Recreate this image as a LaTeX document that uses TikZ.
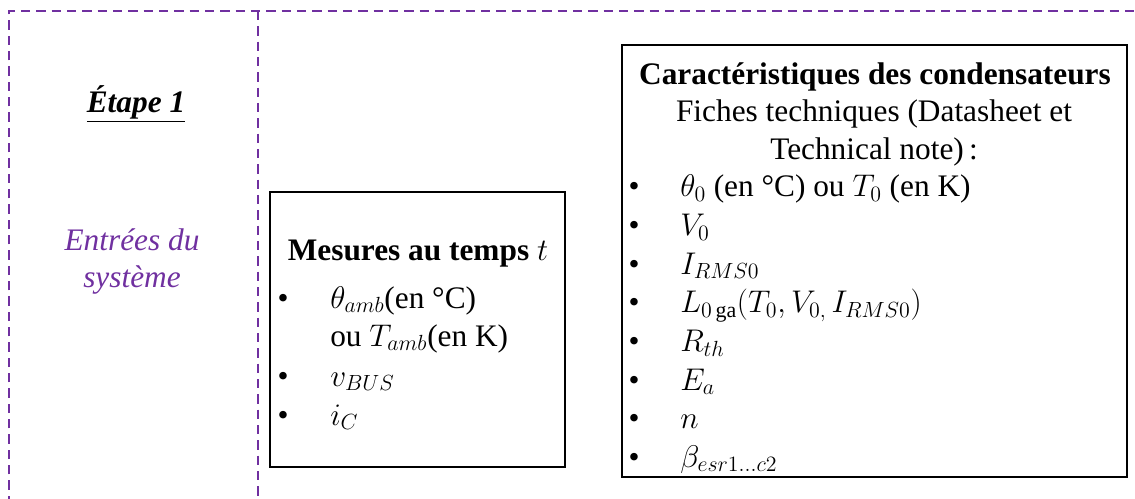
\documentclass[tikz,border=0pt]{standalone}
\usepackage{fix-cm}
\usepackage{fontspec}
\setmainfont{Liberation Serif}
\usepackage{xcolor}
\definecolor{StepPurple}{RGB}{112,48,160}
\usetikzlibrary{positioning}
\tikzset{
  % Dashed frame of the step
  stepframe/.style={draw=StepPurple, line width=1.5pt, dash pattern=on 7pt off 4.5pt},
  % Input boxes
  databox/.style={rectangle, draw=black, line width=1.5pt, inner sep=0pt},
  % Texts (placed on their baseline)
  txt/.style={font=\fontsize{23.5}{28}\selectfont, inner sep=0pt, anchor=base},
  itemtxt/.style={txt, anchor=base west},
  steptxt/.style={txt, text=StepPurple, font=\fontsize{23.5}{28}\selectfont\itshape},
}

\begin{document}
\begin{tikzpicture}[x=0.75pt, y=-0.75pt]

  \useasboundingbox (0,0) rectangle (1135,499);

  %% Step frame
  \draw[stepframe] (9,505) -- (9,11) -- (1145,11);
  \draw[stepframe] (258,11) -- (258,505);

  %% Step title
  \node[txt] (step) at (136,113) {\textbf{\textit{\underline{Étape 1}}}};
  \node[steptxt] (inp1) at (132,250) {Entrées du};
  \node[steptxt] (inp2) at (132,287) {système};

  %% Measurements box
  \node[databox, minimum width=221.25pt, minimum height=206.25pt] (mes) at (417.5,329.5) {};
  \node[txt] (mestitle) at (418,260) {\textbf{Mesures au temps} $t$};
  \node[txt] (mb1) at (283,308) {•};
  \node[itemtxt] (m1) at (330,308) {$\theta_{amb}$(en °C)};
  \node[itemtxt] (m2) at (330,346) {ou $T_{amb}$(en K)};
  \node[txt] (mb3) at (283,386) {•};
  \node[itemtxt] (m3) at (330,386) {$v_{BUS}$};
  \node[txt] (mb4) at (283,425) {•};
  \node[itemtxt] (m4) at (330,425) {$i_C$};

  %% Capacitor characteristics box
  \node[databox, minimum width=378.75pt, minimum height=324pt] (car) at (874.5,261) {};
  \node[txt] (cartitle) at (875,85) {\textbf{Caractéristiques des condensateurs}};
  \node[txt] (fich1) at (874,122) {Fiches techniques (Datasheet et};
  \node[txt] (fich2) at (874,160) {Technical note)\,:};
  \foreach \y/\name/\val in {
      197/c1/{$\theta_0$ (en °C) ou $T_0$ (en K)},
      235.6/c2/{$V_0$},
      274.2/c3/{$I_{RMS0}$},
      312.8/c4/{$L_{0\,\mathrm{ga}}(T_0,V_{0,}\,I_{RMS0})$},
      351.4/c5/{$R_{th}$},
      390/c6/{$E_a$},
      428.6/c7/{$n$},
      467.2/c8/{$\beta_{esr1\ldots c2}$}}{
    \node[txt] (b\name) at (634,\y) {•};
    \node[itemtxt] (\name) at (680,\y) {\val};
  }

\end{tikzpicture}
\end{document}
